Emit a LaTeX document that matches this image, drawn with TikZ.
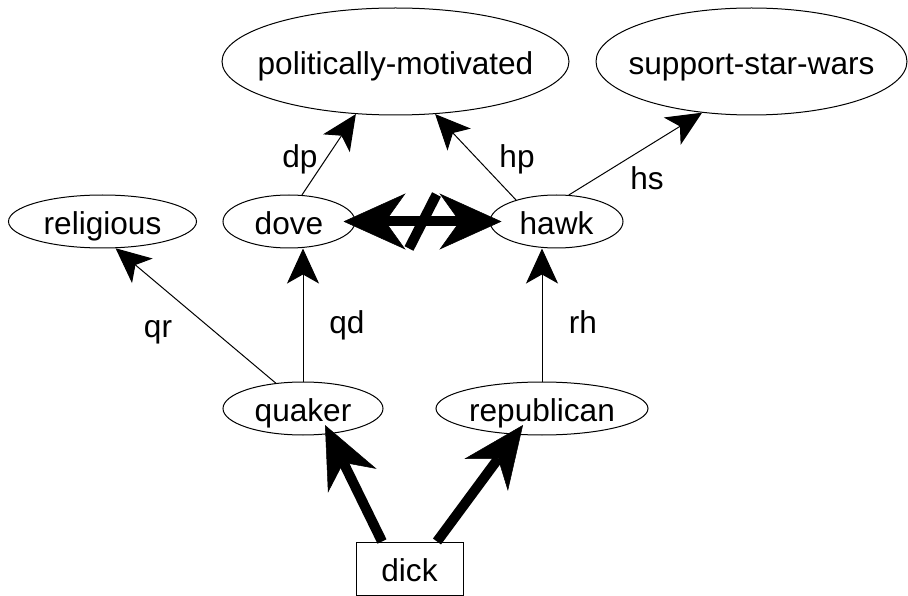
\documentclass[tikz,border=0pt]{standalone}
\usepackage{fontspec}
\setmainfont{Liberation Sans}
\usetikzlibrary{arrows.meta,shapes.geometric,calc}
\begin{document}
\begin{tikzpicture}[x=1pt,y=-1pt,
  every node/.style={font=\fontsize{31.6}{38}\selectfont, inner sep=0pt},
  ell/.style={draw, ellipse, line width=1pt, text height=26pt, text depth=0pt},
  boxnode/.style={draw, rectangle, line width=1pt, text height=26pt, text depth=0pt},
  lbl/.style={anchor=base},
  tedge/.style={line width=1pt, -{Stealth[length=35pt,width=32pt,inset=9pt]}},
  bhead/.style={},
  bedge/.style={line width=10pt, -{Stealth[length=62pt,width=54pt,inset=20pt,line width=0.5pt]}},
  bboth/.style={line width=10pt, {Stealth[length=62pt,width=56pt,inset=20pt,line width=0.5pt]}-{Stealth[length=62pt,width=56pt,inset=20pt,line width=0.5pt]}},
  slash/.style={line width=10pt}
]
\useasboundingbox (0,0) rectangle (908,596);
\node[ell, minimum width=347pt, minimum height=107pt] (pm) at (395.5,61.5) {\makebox[0pt]{politically-motivated}};
\node[ell, minimum width=311pt, minimum height=107pt] (support) at (751.5,61.5) {\makebox[0pt]{support-star-wars}};
\node[ell, minimum width=188pt, minimum height=53pt] (religious) at (102.5,221.5) {\makebox[0pt]{religious}};
\node[ell, minimum width=132pt, minimum height=53pt] (dove) at (289,221.5) {\makebox[0pt]{dove}};
\node[ell, minimum width=133pt, minimum height=53pt] (hawk) at (556.5,221.5) {\makebox[0pt]{hawk}};
\node[ell, minimum width=160pt, minimum height=53pt] (quaker) at (303,408.5) {\makebox[0pt]{quaker}};
\node[ell, minimum width=212pt, minimum height=53pt] (republican) at (542,408.5) {\makebox[0pt]{republican}};
\node[boxnode, minimum width=107pt, minimum height=53pt] (dick) at (409.5,568.5) {\makebox[0pt]{dick}};

\draw[tedge] (quaker.137) -- (religious.-64);
\draw[tedge] (quaker.north) -- (quaker.north |- dove.south);
\draw[tedge] (republican.north) -- (republican.north |- hawk.south);
\draw[tedge] (dove.64) -- (pm.-127);
\draw[tedge] (hawk.152) -- (pm.-53);
\draw[tedge] (hawk.65) -- (support.-134);

\draw[bedge] ($(dick.north)+(-27.5,0)$) -- ($(quaker)+(22,16.5)$);
\draw[bedge] ($(dick.north)+(27.5,0)$) -- ($(republican)+(-19,16.5)$);

\draw[bboth] ($(dove.east)+(-12,0)$) -- ($(hawk.west)+(12,0)$);
\coordinate (mid) at ($(dove.east)!0.5!(hawk.west)$);
\draw[slash] ($(mid)+(14,-27)$) -- ($(mid)+(-13.5,27)$);

\node[lbl] (lqr) at (158,337) {qr};
\node[lbl] (lqd) at (347,333) {qd};
\node[lbl] (lrh) at (583,333) {rh};
\node[lbl] (ldp) at (300,168) {dp};
\node[lbl] (lhp) at (517,168) {hp};
\node[lbl] (lhs) at (647,190) {hs};
\end{tikzpicture}
\end{document}
